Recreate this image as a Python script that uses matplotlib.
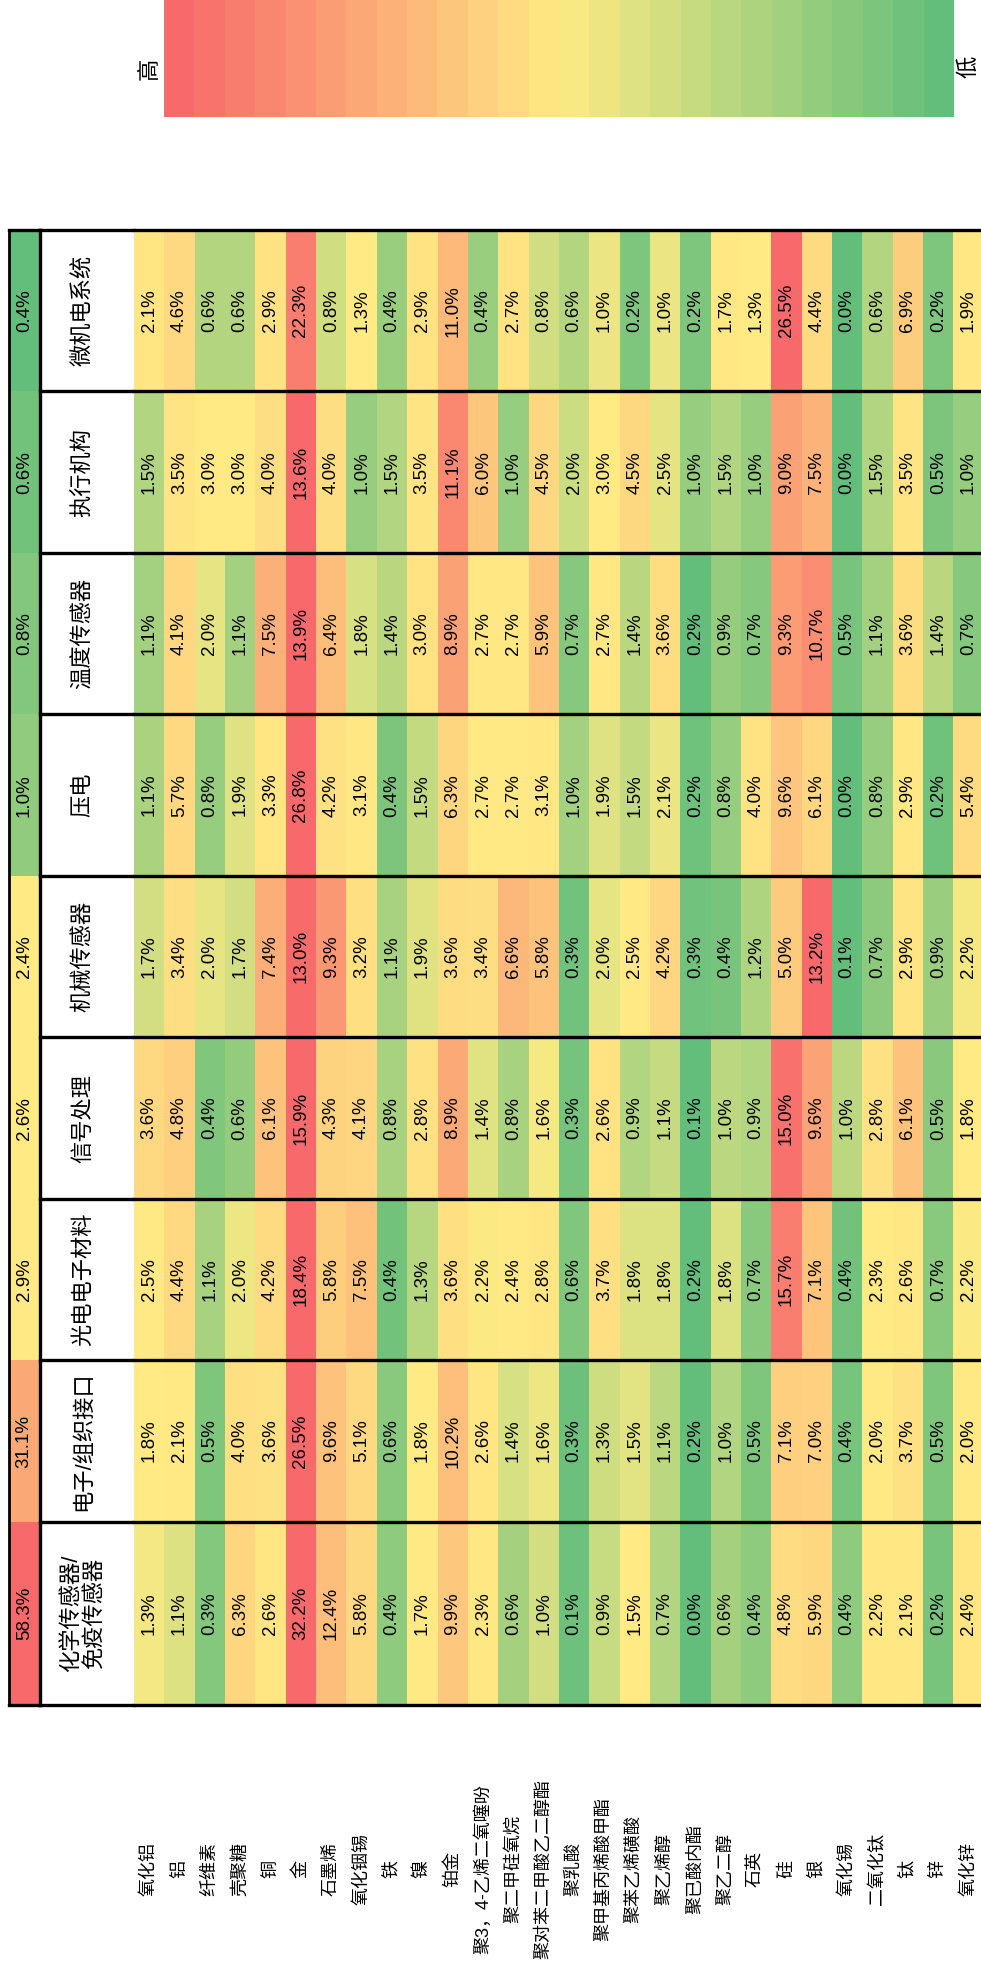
import numpy as np
import matplotlib
matplotlib.use('Agg')
import matplotlib.pyplot as plt
from matplotlib.colors import LinearSegmentedColormap

plt.rcParams['font.family'] = ['Liberation Sans', 'Noto Sans CJK SC']

# materials (one cell per material in each row)
materials = ['氧化铝', '铝', '纤维素', '壳聚糖', '铜', '金', '石墨烯', '氧化铟锡', '铁', '镍',
             '铂金', '聚3，4-乙烯二氧噻吩', '聚二甲硅氧烷', '聚对苯二甲酸乙二醇酯', '聚乳酸',
             '聚甲基丙烯酸甲酯', '聚苯乙烯磺酸', '聚乙烯醇', '聚已酸内酯', '聚乙二醇', '石英',
             '硅', '银', '氧化锡', '二氧化钛', '钛', '锌', '氧化锌']

# application categories, bottom row first
categories = ['化学传感器/\n免疫传感器', '电子/组织接口', '光电电子材料', '信号处理',
              '机械传感器', '压电', '温度传感器', '执行机构', '微机电系统']
totals = [58.3, 31.1, 2.9, 2.6, 2.4, 1.0, 0.8, 0.6, 0.4]

chem = [1.3, 1.1, 0.3, 6.3, 2.6, 32.2, 12.4, 5.8, 0.4, 1.7, 9.9, 2.3, 0.6, 1.0,
        0.1, 0.9, 1.5, 0.7, 0.0, 0.6, 0.4, 4.8, 5.9, 0.4, 2.2, 2.1, 0.2, 2.4]
interface = [1.8, 2.1, 0.5, 4.0, 3.6, 26.5, 9.6, 5.1, 0.6, 1.8, 10.2, 2.6, 1.4, 1.6,
             0.3, 1.3, 1.5, 1.1, 0.2, 1.0, 0.5, 7.1, 7.0, 0.4, 2.0, 3.7, 0.5, 2.0]
opto = [2.5, 4.4, 1.1, 2.0, 4.2, 18.4, 5.8, 7.5, 0.4, 1.3, 3.6, 2.2, 2.4, 2.8,
        0.6, 3.7, 1.8, 1.8, 0.2, 1.8, 0.7, 15.7, 7.1, 0.4, 2.3, 2.6, 0.7, 2.2]
signal = [3.6, 4.8, 0.4, 0.6, 6.1, 15.9, 4.3, 4.1, 0.8, 2.8, 8.9, 1.4, 0.8, 1.6,
          0.3, 2.6, 0.9, 1.1, 0.1, 1.0, 0.9, 15.0, 9.6, 1.0, 2.8, 6.1, 0.5, 1.8]
mech = [1.7, 3.4, 2.0, 1.7, 7.4, 13.0, 9.3, 3.2, 1.1, 1.9, 3.6, 3.4, 6.6, 5.8,
        0.3, 2.0, 2.5, 4.2, 0.3, 0.4, 1.2, 5.0, 13.2, 0.1, 0.7, 2.9, 0.9, 2.2]
piezo = [1.1, 5.7, 0.8, 1.9, 3.3, 26.8, 4.2, 3.1, 0.4, 1.5, 6.3, 2.7, 2.7, 3.1,
         1.0, 1.9, 1.5, 2.1, 0.2, 0.8, 4.0, 9.6, 6.1, 0.0, 0.8, 2.9, 0.2, 5.4]
temp = [1.1, 4.1, 2.0, 1.1, 7.5, 13.9, 6.4, 1.8, 1.4, 3.0, 8.9, 2.7, 2.7, 5.9,
        0.7, 2.7, 1.4, 3.6, 0.2, 0.9, 0.7, 9.3, 10.7, 0.5, 1.1, 3.6, 1.4, 0.7]
actuator = [1.5, 3.5, 3.0, 3.0, 4.0, 13.6, 4.0, 1.0, 1.5, 3.5, 11.1, 6.0, 1.0, 4.5,
            2.0, 3.0, 4.5, 2.5, 1.0, 1.5, 1.0, 9.0, 7.5, 0.0, 1.5, 3.5, 0.5, 1.0]
mems = [2.1, 4.6, 0.6, 0.6, 2.9, 22.3, 0.8, 1.3, 0.4, 2.9, 11.0, 0.4, 2.7, 0.8,
        0.6, 1.0, 0.2, 1.0, 0.2, 1.7, 1.3, 26.5, 4.4, 0.0, 0.6, 6.9, 0.2, 1.9]

data = np.array([chem, interface, opto, signal, mech, piezo, temp, actuator, mems])

# green - yellow - red scale (min / median / max per row)
cmap = LinearSegmentedColormap.from_list('gyr', ['#63BE7B', '#FFEB84', '#F8696B'])


def scale(v):
    v = np.asarray(v, dtype=float)
    lo, mid, hi = v.min(), np.median(v), v.max()
    return np.where(v <= mid, 0.5 * (v - lo) / (mid - lo), 0.5 + 0.5 * (v - mid) / (hi - mid))


W, H = 981, 1975
fig = plt.figure(figsize=(W / 100, H / 100), dpi=100)


def px_axes(x0, y0, x1, y1):
    return fig.add_axes([x0 / W, 1 - y1 / H, (x1 - x0) / W, (y1 - y0) / H])


# row heights (bottom row is taller)
row_h = np.array([1.135] + [1.0] * 8)
y_edges = np.concatenate([[0], np.cumsum(row_h)])
y_mid = (y_edges[:-1] + y_edges[1:]) / 2
top, bot = 230, 1705
lw = 2.4

# totals column
ax_t = px_axes(8.5, top, 40, bot)
ax_t.pcolormesh([0, 1], y_edges, scale(totals).reshape(-1, 1), cmap=cmap, vmin=0, vmax=1)
for y, v in zip(y_mid, totals):
    ax_t.text(0.5, y, f'{v:.1f}%', rotation=90, ha='center', va='center', fontsize=13.5)
ax_t.set_xlim(0, 1)
ax_t.set_ylim(0, y_edges[-1])

# header column
ax_h = px_axes(40, top, 134, bot)
for y, c in zip(y_mid, categories):
    ax_h.text(0.46, y, c, rotation=90, ha='center', va='center', fontsize=16,
              multialignment='center', linespacing=1.15)
ax_h.set_xlim(0, 1)
ax_h.set_ylim(0, y_edges[-1])

# heat cells
ncol = len(materials)
cw = 30.35
ax = px_axes(134, top, 134 + ncol * cw, bot)
t = np.array([scale(r) for r in data])
ax.pcolormesh(np.arange(ncol + 1), y_edges, t, cmap=cmap, vmin=0, vmax=1)
for r, y in enumerate(y_mid):
    for i in range(ncol):
        ax.text(i + 0.5, y, f'{data[r, i]:.1f}%', rotation=90, ha='center', va='center',
                fontsize=13.5)
ax.set_xlim(0, ncol)
ax.set_ylim(0, y_edges[-1])
lab_y = (bot - 1869) / (bot - top)
for i, m in enumerate(materials):
    ax.text(i + 0.5, lab_y, m, rotation=90, ha='center', va='center', fontsize=13,
            transform=ax.get_xaxis_transform(), clip_on=False)

for a in (ax_t, ax_h, ax):
    a.set_xticks([])
    a.set_yticks([])
    for s in a.spines.values():
        s.set_visible(False)
# borders
for e in (y_edges[0], y_edges[-1]):
    ax_t.axhline(e, color='k', lw=lw, clip_on=False)
for e in y_edges:
    ax_h.axhline(e, color='k', lw=lw, clip_on=False)
    ax.axhline(e, color='k', lw=lw, clip_on=False)
ax_t.spines['left'].set_visible(True)
ax_t.spines['left'].set_linewidth(2.0)
ax_h.spines['left'].set_visible(True)
ax_h.spines['left'].set_linewidth(lw)

# colour key
ax_c = px_axes(164, 0, 164 + 26 * cw, 117)
ax_c.imshow(np.linspace(1, 0, 26).reshape(1, -1), cmap=cmap, vmin=0, vmax=1, aspect='auto')
ax_c.axis('off')
fig.text(150 / W, 1 - 69 / H, '高', rotation=90, ha='center', va='center', fontsize=16)
fig.text(969 / W, 1 - 67 / H, '低', rotation=90, ha='center', va='center', fontsize=16)

fig.savefig('out.png', dpi=100)
